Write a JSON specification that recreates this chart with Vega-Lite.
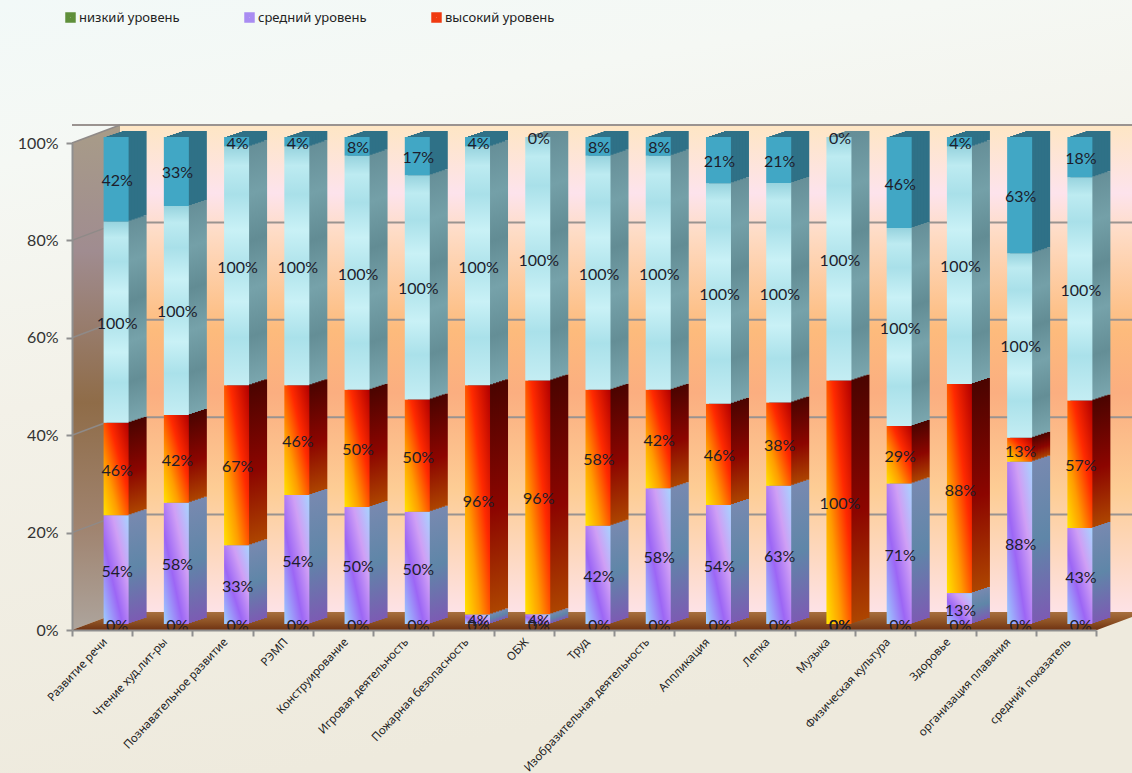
{
"$schema":"https://vega.github.io/schema/vega-lite/v6.json",
"width":1024,"height":487,"autosize":"none","padding":{"left":72,"top":143,"right":36,"bottom":143},
"background":"#f3f2ea",
"config":{"view":{"stroke":null}},
"params":[
{"name":"sideFill","value":[
 "#4f7a30",
 {"x1":0,"y1":0,"x2":0,"y2":1,"gradient":"linear","stops":[{"offset":0,"color":"#7889b0"},{"offset":0.5,"color":"#5f86a8"},{"offset":1,"color":"#7c5bb3"}]},
 {"x1":0,"y1":0,"x2":0,"y2":1,"gradient":"linear","stops":[{"offset":0,"color":"#4a0400"},{"offset":0.55,"color":"#8c0500"},{"offset":1,"color":"#ad4500"}]},
 {"x1":0,"y1":0,"x2":0,"y2":1,"gradient":"linear","stops":[{"offset":0,"color":"#668f98"},{"offset":0.2,"color":"#74a0a8"},{"offset":0.4,"color":"#628c94"},{"offset":0.6,"color":"#76a2aa"},{"offset":0.8,"color":"#648e96"},{"offset":1,"color":"#7aa6ae"}]},
 "#2f7187"]},
{"name":"frontFill","value":[
 "#6d9c3f",
 {"x1":1,"y1":0,"x2":0,"y2":1,"gradient":"linear","stops":[{"offset":0,"color":"#a6d4ff"},{"offset":0.32,"color":"#cf9ff5"},{"offset":0.62,"color":"#9c66f5"},{"offset":1,"color":"#9ccfff"}]},
 {"x1":0,"y1":1,"x2":1,"y2":0,"gradient":"linear","stops":[{"offset":0,"color":"#ffe400"},{"offset":0.3,"color":"#ff9c00"},{"offset":0.62,"color":"#ff2a00"},{"offset":1,"color":"#b00000"}]},
 {"x1":0,"y1":0,"x2":0,"y2":1,"gradient":"linear","stops":[{"offset":0,"color":"#97d3de"},{"offset":0.08,"color":"#bdebf1"},{"offset":0.2,"color":"#a9e0e9"},{"offset":0.35,"color":"#c9f1f6"},{"offset":0.5,"color":"#afe3eb"},{"offset":0.65,"color":"#c9f1f6"},{"offset":0.8,"color":"#aae1ea"},{"offset":1,"color":"#c4edf3"}]},
 "#41a7c5"]}
],
"datasets":{"rows":[
{"c":"Развитие речи","o":1,"s":"низкий уровень","v":0},{"c":"Развитие речи","o":2,"s":"средний уровень","v":0.54},{"c":"Развитие речи","o":3,"s":"высокий уровень","v":0.46},{"c":"Развитие речи","o":4,"s":"ряд 4","v":1},{"c":"Развитие речи","o":5,"s":"ряд 5","v":0.42},
{"c":"Чтение худ.лит-ры","o":1,"s":"низкий уровень","v":0},{"c":"Чтение худ.лит-ры","o":2,"s":"средний уровень","v":0.58},{"c":"Чтение худ.лит-ры","o":3,"s":"высокий уровень","v":0.42},{"c":"Чтение худ.лит-ры","o":4,"s":"ряд 4","v":1},{"c":"Чтение худ.лит-ры","o":5,"s":"ряд 5","v":0.33},
{"c":"Познавательное развитие","o":1,"s":"низкий уровень","v":0},{"c":"Познавательное развитие","o":2,"s":"средний уровень","v":0.33},{"c":"Познавательное развитие","o":3,"s":"высокий уровень","v":0.67},{"c":"Познавательное развитие","o":4,"s":"ряд 4","v":1},{"c":"Познавательное развитие","o":5,"s":"ряд 5","v":0.04},
{"c":"РЭМП","o":1,"s":"низкий уровень","v":0},{"c":"РЭМП","o":2,"s":"средний уровень","v":0.54},{"c":"РЭМП","o":3,"s":"высокий уровень","v":0.46},{"c":"РЭМП","o":4,"s":"ряд 4","v":1},{"c":"РЭМП","o":5,"s":"ряд 5","v":0.04},
{"c":"Конструирование","o":1,"s":"низкий уровень","v":0},{"c":"Конструирование","o":2,"s":"средний уровень","v":0.5},{"c":"Конструирование","o":3,"s":"высокий уровень","v":0.5},{"c":"Конструирование","o":4,"s":"ряд 4","v":1},{"c":"Конструирование","o":5,"s":"ряд 5","v":0.08},
{"c":"Игровая деятельность","o":1,"s":"низкий уровень","v":0},{"c":"Игровая деятельность","o":2,"s":"средний уровень","v":0.5},{"c":"Игровая деятельность","o":3,"s":"высокий уровень","v":0.5},{"c":"Игровая деятельность","o":4,"s":"ряд 4","v":1},{"c":"Игровая деятельность","o":5,"s":"ряд 5","v":0.17},
{"c":"Пожарная безопасность","o":1,"s":"низкий уровень","v":0},{"c":"Пожарная безопасность","o":2,"s":"средний уровень","v":0.04},{"c":"Пожарная безопасность","o":3,"s":"высокий уровень","v":0.96},{"c":"Пожарная безопасность","o":4,"s":"ряд 4","v":1},{"c":"Пожарная безопасность","o":5,"s":"ряд 5","v":0.04},
{"c":"ОБЖ","o":1,"s":"низкий уровень","v":0},{"c":"ОБЖ","o":2,"s":"средний уровень","v":0.04},{"c":"ОБЖ","o":3,"s":"высокий уровень","v":0.96},{"c":"ОБЖ","o":4,"s":"ряд 4","v":1},{"c":"ОБЖ","o":5,"s":"ряд 5","v":0},
{"c":"Труд","o":1,"s":"низкий уровень","v":0},{"c":"Труд","o":2,"s":"средний уровень","v":0.42},{"c":"Труд","o":3,"s":"высокий уровень","v":0.58},{"c":"Труд","o":4,"s":"ряд 4","v":1},{"c":"Труд","o":5,"s":"ряд 5","v":0.08},
{"c":"Изобразительная деятельность","o":1,"s":"низкий уровень","v":0},{"c":"Изобразительная деятельность","o":2,"s":"средний уровень","v":0.58},{"c":"Изобразительная деятельность","o":3,"s":"высокий уровень","v":0.42},{"c":"Изобразительная деятельность","o":4,"s":"ряд 4","v":1},{"c":"Изобразительная деятельность","o":5,"s":"ряд 5","v":0.08},
{"c":"Аппликация","o":1,"s":"низкий уровень","v":0},{"c":"Аппликация","o":2,"s":"средний уровень","v":0.54},{"c":"Аппликация","o":3,"s":"высокий уровень","v":0.46},{"c":"Аппликация","o":4,"s":"ряд 4","v":1},{"c":"Аппликация","o":5,"s":"ряд 5","v":0.21},
{"c":"Лепка","o":1,"s":"низкий уровень","v":0},{"c":"Лепка","o":2,"s":"средний уровень","v":0.63},{"c":"Лепка","o":3,"s":"высокий уровень","v":0.38},{"c":"Лепка","o":4,"s":"ряд 4","v":1},{"c":"Лепка","o":5,"s":"ряд 5","v":0.21},
{"c":"Музыка","o":1,"s":"низкий уровень","v":0},{"c":"Музыка","o":2,"s":"средний уровень","v":0},{"c":"Музыка","o":3,"s":"высокий уровень","v":1},{"c":"Музыка","o":4,"s":"ряд 4","v":1},{"c":"Музыка","o":5,"s":"ряд 5","v":0},
{"c":"Физическая культура","o":1,"s":"низкий уровень","v":0},{"c":"Физическая культура","o":2,"s":"средний уровень","v":0.71},{"c":"Физическая культура","o":3,"s":"высокий уровень","v":0.29},{"c":"Физическая культура","o":4,"s":"ряд 4","v":1},{"c":"Физическая культура","o":5,"s":"ряд 5","v":0.46},
{"c":"Здоровье","o":1,"s":"низкий уровень","v":0},{"c":"Здоровье","o":2,"s":"средний уровень","v":0.13},{"c":"Здоровье","o":3,"s":"высокий уровень","v":0.88},{"c":"Здоровье","o":4,"s":"ряд 4","v":1},{"c":"Здоровье","o":5,"s":"ряд 5","v":0.04},
{"c":"организация плавания","o":1,"s":"низкий уровень","v":0},{"c":"организация плавания","o":2,"s":"средний уровень","v":0.88},{"c":"организация плавания","o":3,"s":"высокий уровень","v":0.13},{"c":"организация плавания","o":4,"s":"ряд 4","v":1},{"c":"организация плавания","o":5,"s":"ряд 5","v":0.63},
{"c":"средний показатель","o":1,"s":"низкий уровень","v":0},{"c":"средний показатель","o":2,"s":"средний уровень","v":0.43},{"c":"средний показатель","o":3,"s":"высокий уровень","v":0.57},{"c":"средний показатель","o":4,"s":"ряд 4","v":1},{"c":"средний показатель","o":5,"s":"ряд 5","v":0.18}
],
"grid":[{"g":0.2},{"g":0.4},{"g":0.6},{"g":0.8},{"g":1}],
"one":[{"n":1}]},
"data":{"name":"rows"},
"transform":[{"stack":"v","groupby":["c"],"sort":[{"field":"o","order":"ascending"}],"offset":"normalize","as":["y0","y1"]}],
"layer":[
{"data":{"name":"one"},
 "mark":{"type":"point","filled":true,"opacity":1,"size":4,"shape":"M-72,-143 L1060,-143 L1060,630 L-72,630 Z","fill":{"x1":0,"y1":0,"x2":0.25,"y2":1,"gradient":"linear","stops":[{"offset":0,"color":"#f2f9f8"},{"offset":0.2,"color":"#f5f8f4"},{"offset":0.5,"color":"#f3f1e8"},{"offset":1,"color":"#eeeadd"}]}},
 "encoding":{"x":{"datum":"Развитие речи","type":"nominal","bandPosition":0},"y":{"datum":1,"type":"quantitative"}}},
{"transform":[{"filter":"datum.o==1"}],
 "mark":{"type":"bar","width":{"band":1.02},"xOffset":48,"yOffset":-18,"y2Offset":-18,"fill":{"x1":0,"y1":0,"x2":0,"y2":1,"gradient":"linear","stops":[{"offset":0,"color":"#fee6c4"},{"offset":0.14,"color":"#fde3ec"},{"offset":0.22,"color":"#fedcc6"},{"offset":0.42,"color":"#fdbb7c"},{"offset":0.55,"color":"#fbae80"},{"offset":0.75,"color":"#fdcd95"},{"offset":1,"color":"#fde2e6"}]}},
 "encoding":{
  "x":{"field":"c","type":"nominal","sort":null,"title":null,"scale":{"paddingInner":0,"paddingOuter":0},
   "axis":{"title":null,"tickBand":"extent","labelAngle":-47,"labelAlign":"right","labelBaseline":"middle","labelFont":"Noto Sans","labelFontSize":11.5,"labelColor":"#222222","labelPadding":4,"labelOffset":3,"domainColor":"#8f8f8f","domainWidth":2,"tickColor":"#8f8f8f","tickWidth":2,"tickSize":6,"labelOverlap":false,"labelLimit":260,"zindex":1}},
  "y":{"datum":0,"type":"quantitative","title":null,"scale":{"domain":[0,1],"nice":false},
   "axis":{"title":null,"format":".0%","values":[0,0.2,0.4,0.6,0.8,1],"grid":false,"labelFont":"Lato","labelFontSize":16,"labelColor":"#333333","labelPadding":8,"domainColor":"#8f8f8f","domainWidth":2,"tickColor":"#8f8f8f","tickWidth":2,"tickSize":6,"zindex":1}},
  "y2":{"datum":1}}},
{"data":{"name":"grid"},"mark":{"type":"rule","xOffset":48,"yOffset":-18,"stroke":"#9a9390","strokeWidth":2},"encoding":{"y":{"field":"g","type":"quantitative"}}},
{"data":{"name":"one"},
 "mark":{"type":"point","filled":true,"opacity":1,"size":4,"shape":"M0,0 L48,-18 L48,-505 L0,-487 Z","fill":{"x1":0,"y1":0,"x2":0,"y2":1,"gradient":"linear","stops":[{"offset":0,"color":"#a89c88"},{"offset":0.25,"color":"#a08c90"},{"offset":0.55,"color":"#8f6c48"},{"offset":0.8,"color":"#a08470"},{"offset":1,"color":"#ada49c"}]}},
 "encoding":{"x":{"datum":"Развитие речи","type":"nominal","bandPosition":0},"y":{"datum":0,"type":"quantitative"}}},
{"data":{"name":"one"},
 "mark":{"type":"point","filled":true,"opacity":1,"size":4,"shape":"M0,0 L48,-18 L1073,-18 L1025,0 Z","fill":{"x1":0,"y1":0,"x2":0,"y2":1,"gradient":"linear","stops":[{"offset":0,"color":"#a8703f"},{"offset":0.6,"color":"#8a4e22"},{"offset":1,"color":"#6e3213"}]}},
 "encoding":{"x":{"datum":"Развитие речи","type":"nominal","bandPosition":0},"y":{"datum":0,"type":"quantitative"}}},
{"data":{"name":"grid"},
 "mark":{"type":"point","filled":false,"opacity":1,"size":4,"shape":"M0,0 L48,-18","stroke":"#8f8a88","strokeWidth":1.5},
 "encoding":{"x":{"datum":"Развитие речи","type":"nominal","bandPosition":0},"y":{"field":"g","type":"quantitative"}}},
{"mark":{"type":"bar","width":{"band":0.415},"xOffset":32,"yOffset":-12,"y2Offset":-12},"encoding":{"x":{"field":"c","type":"nominal","sort":null},"y":{"field":"y0","type":"quantitative"},"y2":{"field":"y1"},"fill":{"value":{"expr":"sideFill[datum.o-1]"}}}},
{"mark":{"type":"bar","width":{"band":0.415},"xOffset":29,"yOffset":-11,"y2Offset":-11},"encoding":{"x":{"field":"c","type":"nominal","sort":null},"y":{"field":"y0","type":"quantitative"},"y2":{"field":"y1"},"fill":{"value":{"expr":"sideFill[datum.o-1]"}}}},
{"mark":{"type":"bar","width":{"band":0.415},"xOffset":26,"yOffset":-10,"y2Offset":-10},"encoding":{"x":{"field":"c","type":"nominal","sort":null},"y":{"field":"y0","type":"quantitative"},"y2":{"field":"y1"},"fill":{"value":{"expr":"sideFill[datum.o-1]"}}}},
{"mark":{"type":"bar","width":{"band":0.415},"xOffset":23,"yOffset":-9,"y2Offset":-9},"encoding":{"x":{"field":"c","type":"nominal","sort":null},"y":{"field":"y0","type":"quantitative"},"y2":{"field":"y1"},"fill":{"value":{"expr":"sideFill[datum.o-1]"}}}},
{"mark":{"type":"bar","width":{"band":0.415},"xOffset":20,"yOffset":-8,"y2Offset":-8},"encoding":{"x":{"field":"c","type":"nominal","sort":null},"y":{"field":"y0","type":"quantitative"},"y2":{"field":"y1"},"fill":{"value":{"expr":"sideFill[datum.o-1]"}}}},
{"mark":{"type":"bar","width":{"band":0.415},"xOffset":17,"yOffset":-7,"y2Offset":-7},"encoding":{"x":{"field":"c","type":"nominal","sort":null},"y":{"field":"y0","type":"quantitative"},"y2":{"field":"y1"},"fill":{"value":{"expr":"sideFill[datum.o-1]"}}}},
{"mark":{"type":"bar","width":{"band":0.415},"xOffset":14,"yOffset":-6,"y2Offset":-6},"encoding":{"x":{"field":"c","type":"nominal","sort":null},"y":{"field":"y0","type":"quantitative"},"y2":{"field":"y1"},"fill":{"value":{"expr":"frontFill[datum.o-1]"}}}},
{"transform":[{"filter":"datum.o<=3"}],"mark":{"type":"point","opacity":0,"size":1},"encoding":{"x":{"field":"c","type":"nominal","sort":null},"y":{"field":"y1","type":"quantitative"},"stroke":{"field":"s","type":"nominal","scale":{"domain":["низкий уровень","средний уровень","высокий уровень"],"range":["#5f8f3a","#a98cf2","#f03a10"]},"legend":{"orient":"none","legendX":-8,"legendY":-132,"direction":"horizontal","title":null,"symbolType":"square","symbolSize":30,"symbolStrokeWidth":5,"symbolOpacity":1,"labelFont":"Noto Sans","labelFontSize":13,"labelColor":"#222222","labelOffset":2,"columnPadding":56,"gridAlign":"none"}}}},
{"transform":[{"fold":["y0","y1"],"as":["k","m"]},{"aggregate":[{"op":"mean","field":"m","as":"mid"}],"groupby":["c","s","v"]}],
 "mark":{"type":"text","xOffset":15,"yOffset":-4,"font":"Lato","fontSize":16,"color":"#1d1d2b","baseline":"middle","align":"center"},
 "encoding":{"x":{"field":"c","type":"nominal","sort":null},"y":{"field":"mid","type":"quantitative"},"text":{"field":"v","type":"quantitative","format":".0%"}}}
]}
